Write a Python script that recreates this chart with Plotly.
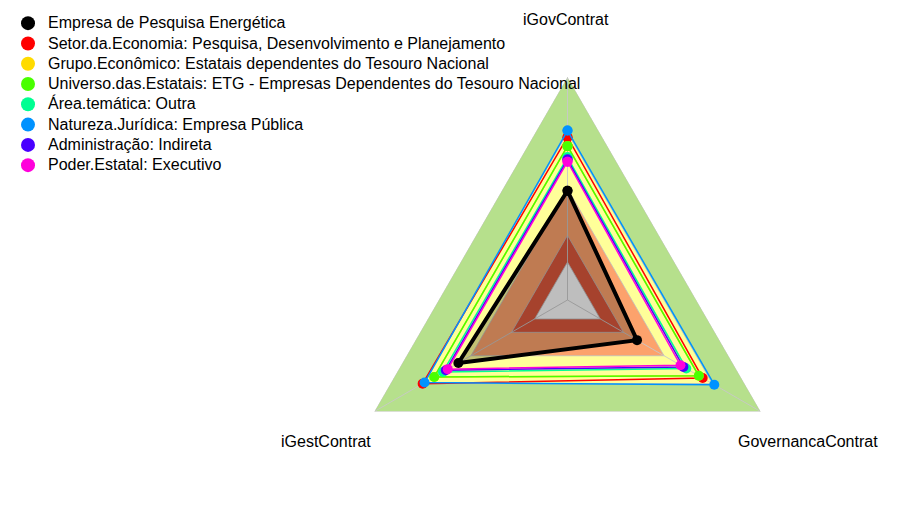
import plotly.graph_objects as go

# eixos do radar
eixos = ['iGovContrat', 'GovernancaContrat', 'iGestContrat']

# faixas de referencia (raio externo de cada faixa, de fora para dentro)
faixas = [1.0, 0.75, 0.5, 0.29, 0.17]
cores_faixas = ['#B6E08C', '#FFFF99', '#FCA26C', '#DA573C', '#FAFAFA']

# series (valores em iGovContrat, GovernancaContrat, iGestContrat)
nomes = [
    'Empresa de Pesquisa Energética',
    'Setor.da.Economia: Pesquisa, Desenvolvimento e Planejamento',
    'Grupo.Econômico: Estatais dependentes do Tesouro Nacional',
    'Universo.das.Estatais: ETG - Empresas Dependentes do Tesouro Nacional',
    'Área.temática: Outra',
    'Natureza.Jurídica: Empresa Pública',
    'Administração: Indireta',
    'Poder.Estatal: Executivo',
]
empresa = [0.49, 0.36, 0.565]
setor = [0.73, 0.70, 0.75]
grupo = [0.69, 0.68, 0.69]
universo = [0.69, 0.68, 0.69]
area = [0.64, 0.615, 0.645]
natureza = [0.76, 0.76, 0.74]
administracao = [0.63, 0.60, 0.63]
poder = [0.62, 0.585, 0.62]
valores = [empresa, setor, grupo, universo, area, natureza, administracao, poder]
cores = ['#000000', '#FF0000', '#FFDB00', '#49FF00', '#00FF92', '#0092FF', '#4900FF', '#FF00DB']

theta = eixos + eixos[:1]

fig = go.Figure()

#----------faixas de fundo------------
for r, cor in zip(faixas, cores_faixas):
    fig.add_trace(go.Scatterpolar(
        r=[r] * len(theta), theta=theta, mode='lines', fill='toself',
        fillcolor=cor, line=dict(color='rgba(190,190,190,0.8)', width=1),
        showlegend=False, hoverinfo='skip'))

# raios dos eixos por cima das faixas
for eixo in eixos:
    fig.add_trace(go.Scatterpolar(
        r=[0, faixas[0]], theta=[eixo, eixo], mode='lines',
        line=dict(color='rgba(200,200,200,0.9)', width=1),
        showlegend=False, hoverinfo='skip'))

#----------series------------
for i, (nome, v, cor) in enumerate(zip(nomes, valores, cores)):
    fig.add_trace(go.Scatterpolar(
        r=v + v[:1], theta=theta, mode='lines+markers', name=nome,
        fill='toself' if i == 0 else 'none',
        fillcolor='rgba(0,0,0,0.24)',
        line=dict(color=cor, width=4 if i == 0 else 1.5),
        marker=dict(color=cor, size=10),
        showlegend=False))
    # entrada da legenda so com o circulo
    fig.add_trace(go.Scatterpolar(
        r=[None], theta=[None], mode='markers', marker=dict(color=cor, size=14),
        name='<span style="font-size:16px">' + nome + '</span>',
        showlegend=True, hoverinfo='skip'))

# rotulos dos eixos
label_pos = [(0.6065, 0.9767), (0.8696, 0.1592), (0.3457, 0.1592)]
for eixo, (x, y) in zip(eixos, label_pos):
    fig.add_annotation(text=eixo, x=x, y=y, xref='paper', yref='paper',
                       xanchor='center', yanchor='middle',
                       showarrow=False, font=dict(size=16, color='black'))

fig.update_layout(
    width=920, height=515,
    margin=dict(l=0, r=0, t=0, b=0),
    paper_bgcolor='white',
    font=dict(family='Liberation Sans, Arial, sans-serif', size=16, color='black'),
    polar=dict(
        domain=dict(x=[336.5 / 920, 782.5 / 920], y=[0.0, 1 - 69 / 515]),
        gridshape='linear',
        bgcolor='rgba(0,0,0,0)',
        radialaxis=dict(range=[0, 1], visible=False),
        angularaxis=dict(rotation=90, direction='clockwise', ticks='',
                         showticklabels=False, showline=False, showgrid=False),
    ),
    legend=dict(x=0, y=1, xanchor='left', yanchor='top',
                font=dict(size=13.3, color='black'), bgcolor='rgba(0,0,0,0)'),
)

fig.write_html("out.html")
